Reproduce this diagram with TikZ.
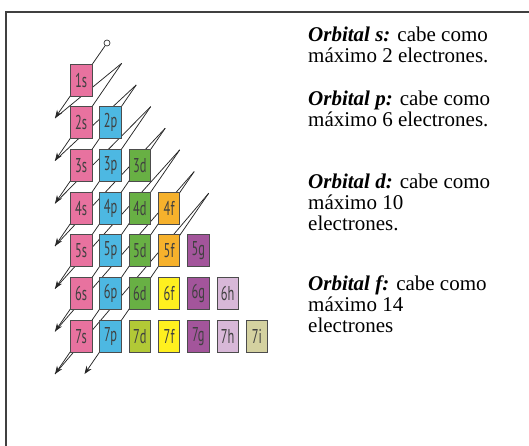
\documentclass[tikz,border=0pt]{standalone}
\usepackage{fontspec}
\setmainfont{Liberation Serif}
\newfontfamily\boxfont{PT Sans}
\usetikzlibrary{arrows.meta}
\definecolor{cs}{HTML}{E8729F}
\definecolor{cp}{HTML}{4DB8E2}
\definecolor{cd}{HTML}{68B044}
\definecolor{cdl}{HTML}{B2C936}
\definecolor{cf}{HTML}{F6B12C}
\definecolor{cfy}{HTML}{FFF01F}
\definecolor{cg}{HTML}{A3559B}
\definecolor{ch}{HTML}{D8B8D8}
\definecolor{ci}{HTML}{D4D1A0}
\tikzset{
  orb/.style={draw=black!70, line width=0.8pt, minimum width=21.5pt, minimum height=32pt, inner sep=0pt,
    text=black!75, font=\boxfont\fontsize{20}{20}\selectfont},
  ln/.style={draw=black!85, line width=0.75pt},
  arr/.style={ln, -{Stealth[length=8pt,width=6pt]}},
  txt/.style={anchor=base west, align=left, inner sep=0pt, font=\fontsize{21}{21}\selectfont}
}
\begin{document}
\begin{tikzpicture}[x=1pt,y=-1pt]
\useasboundingbox (0,0) rectangle (529,445);
\clip (0,0) rectangle (529,445);
\draw[line width=1.5pt, black!75] (6,12) rectangle (560,480);
% coordinates
\node[circle, draw=black!80, line width=0.7pt, minimum size=6pt, inner sep=0pt] (T1) at (107,43) {};
\foreach \k in {2,...,8} \coordinate (T\k) at ({121.7+14.5*(\k-2)},{63.3+21.65*(\k-2)});
\foreach \k in {1,...,7} \coordinate (A\k) at (55,{118+42.67*(\k-1)});
\coordinate (A8) at (84.5,374);
% diagonals
\foreach \k in {1,...,8} \draw[arr] (T\k) -- (A\k);
\foreach \k [evaluate=\k as \n using int(\k+1)] in {1,...,7} \draw[ln] (A\k) -- (T\n);
% boxes
\foreach \lab/\c/\r/\col in {1s/0/1/cs,
  2s/0/2/cs, 2p/1/2/cp,
  3s/0/3/cs, 3p/1/3/cp, 3d/2/3/cd,
  4s/0/4/cs, 4p/1/4/cp, 4d/2/4/cd, 4f/3/4/cf,
  5s/0/5/cs, 5p/1/5/cp, 5d/2/5/cd, 5f/3/5/cf, 5g/4/5/cg,
  6s/0/6/cs, 6p/1/6/cp, 6d/2/6/cd, 6f/3/6/cfy, 6g/4/6/cg, 6h/5/6/ch,
  7s/0/7/cs, 7p/1/7/cp, 7d/2/7/cdl, 7f/3/7/cfy, 7g/4/7/cg, 7h/5/7/ch, 7i/6/7/ci}
  \node[orb, fill=\col] (o\lab) at ({81.2+29.3*\c},{80.2+42.67*(\r-1)}) {\scalebox{0.62}[1]{\lab}};
% text (anchor = baseline of last line)
\node[txt] (ts) at (308,62.7) {\textbf{\textit{Orbital s:}} cabe como\\máximo 2 electrones.};
\node[txt] (tp) at (308,126) {\textbf{\textit{Orbital p:}} cabe como\\máximo 6 electrones.};
\node[txt] (td) at (308,230) {\textbf{\textit{Orbital d:}} cabe como\\máximo 10\\electrones.};
\node[txt] (tf) at (308,332) {\textbf{\textit{Orbital f:}} cabe como\\máximo 14\\electrones};
\end{tikzpicture}
\end{document}
